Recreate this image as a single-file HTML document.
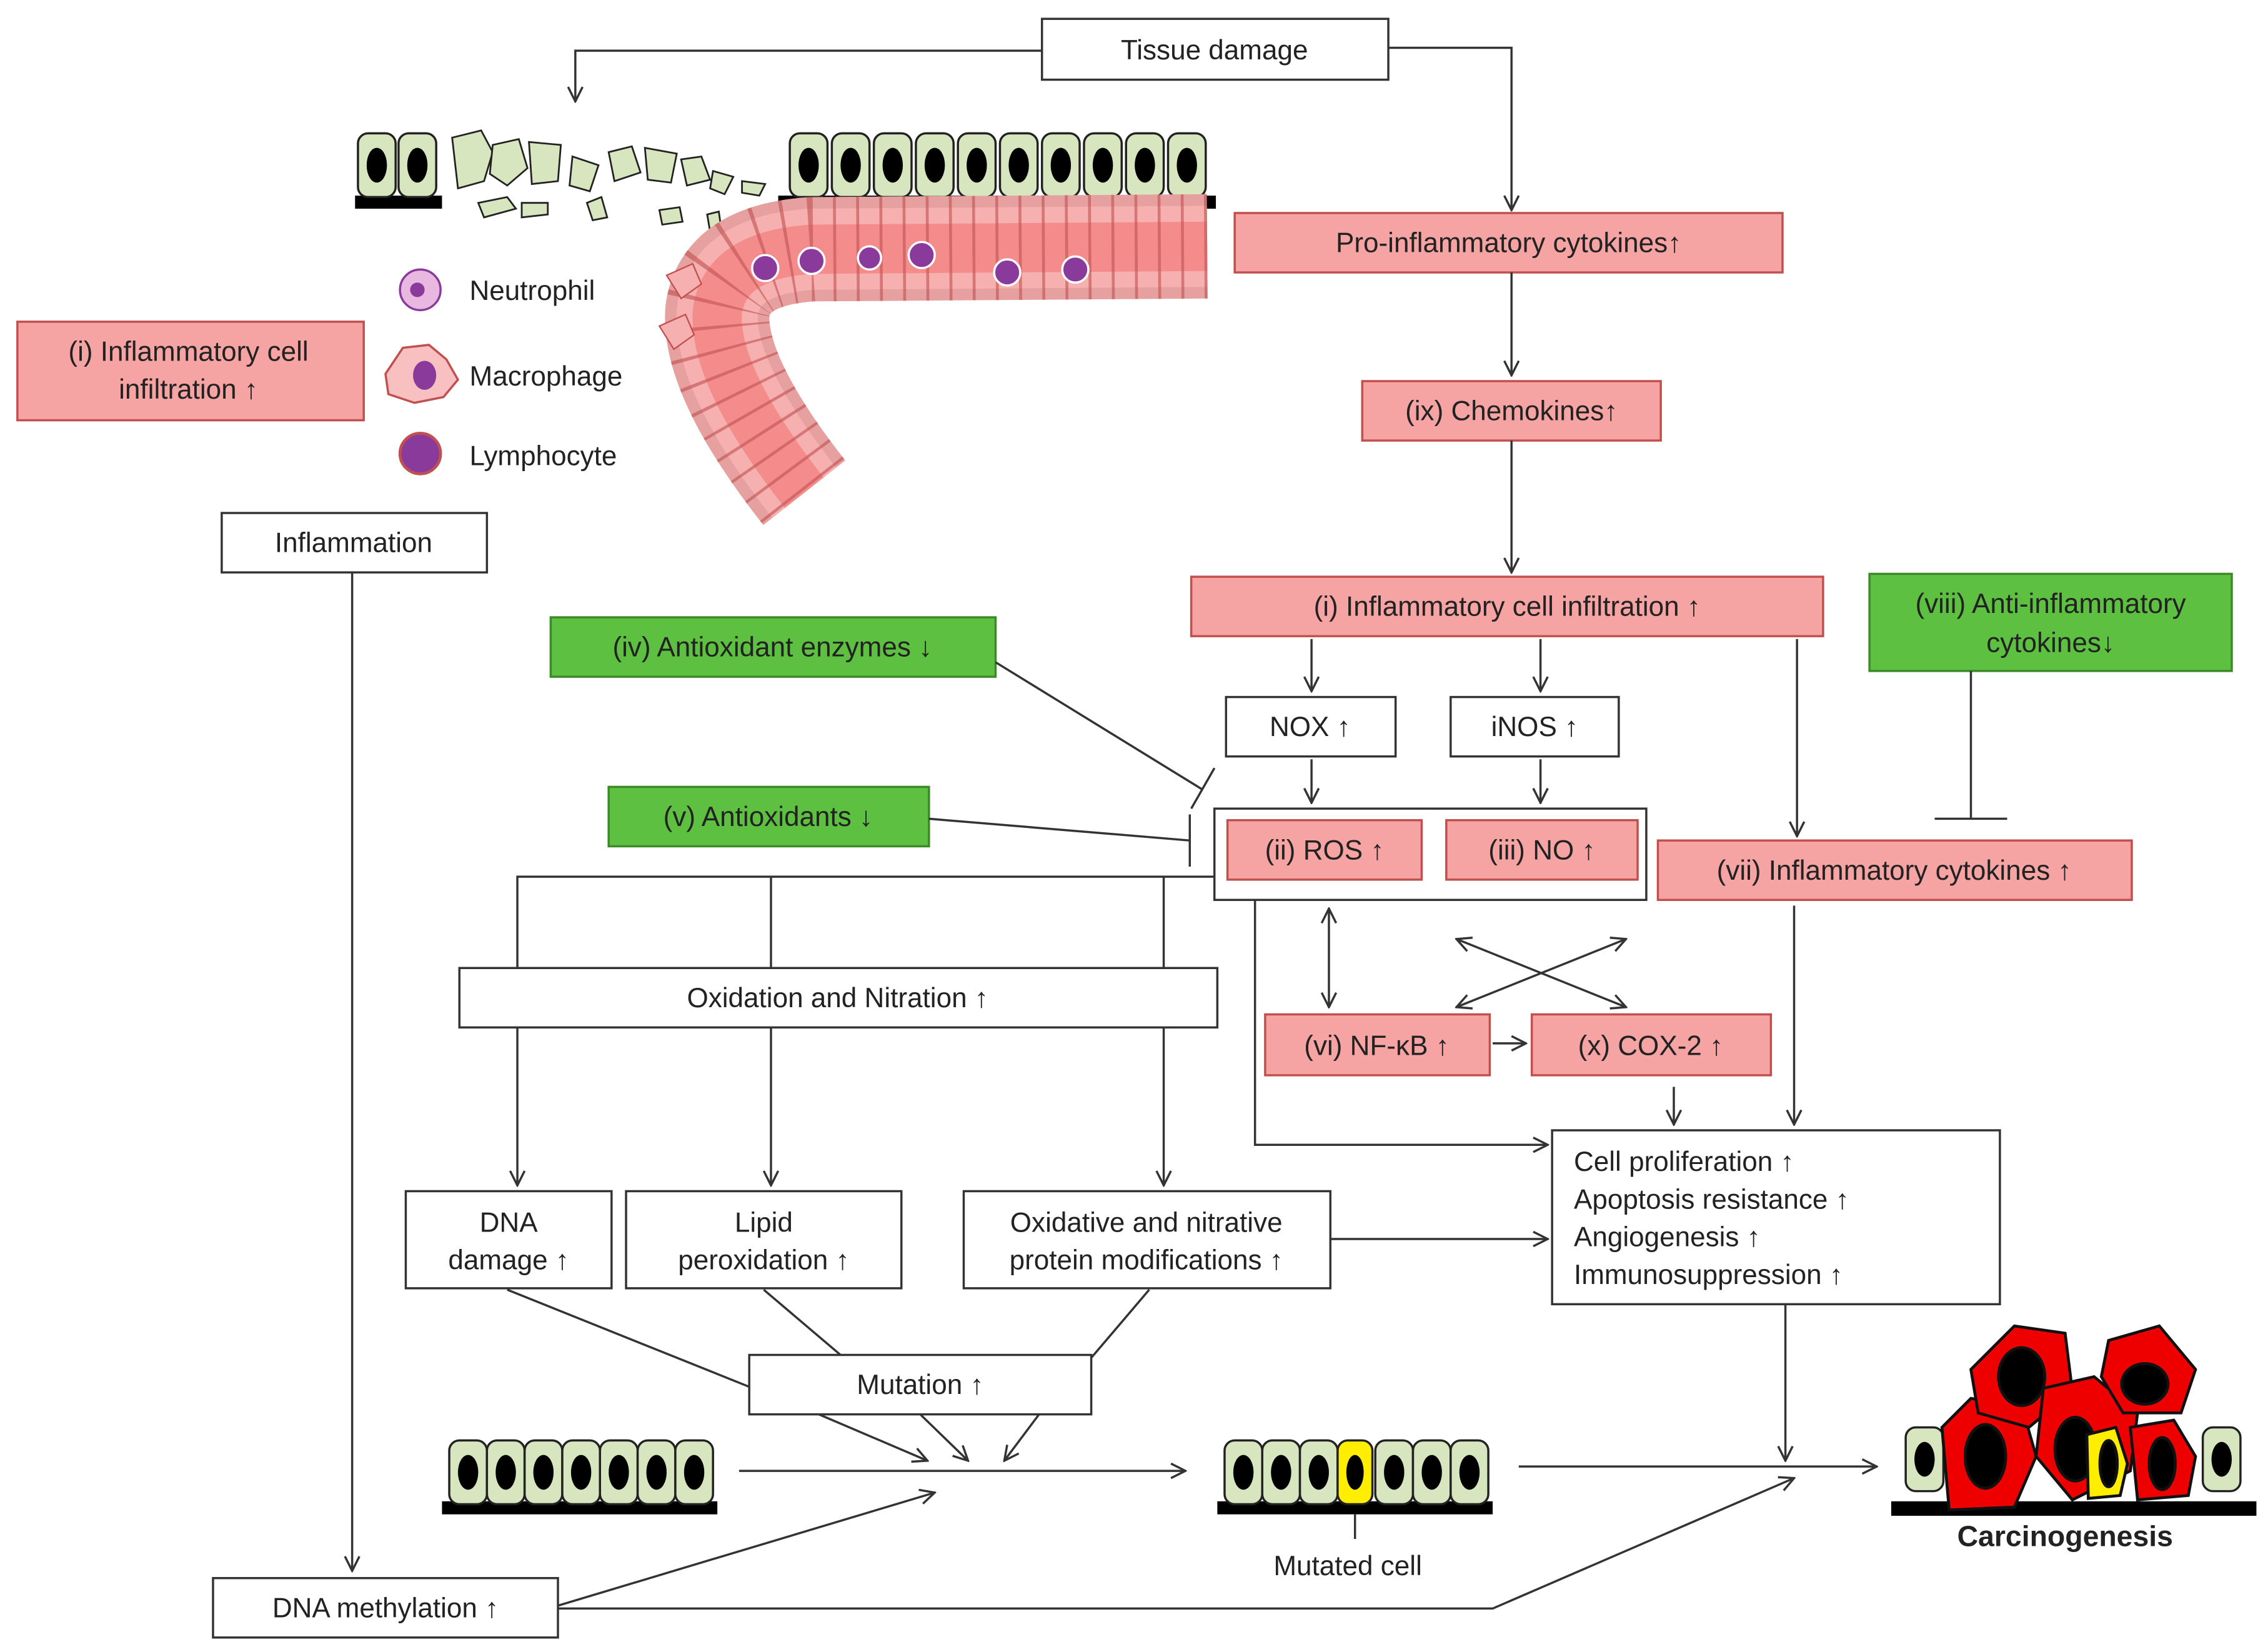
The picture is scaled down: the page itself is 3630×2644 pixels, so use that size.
<!DOCTYPE html>
<html><head><meta charset="utf-8"><style>
html,body{margin:0;padding:0;background:#fff}
svg{display:block}
text{font-family:"Liberation Sans",sans-serif;font-size:19px;fill:#222}
.w{fill:#fff;stroke:#333;stroke-width:1.5}
.p{fill:#f6a3a3;stroke:#c0504d;stroke-width:1.5}
.g{fill:#5ec040;stroke:#3b8a27;stroke-width:1.5}
.l{stroke:#333;stroke-width:1.5;fill:none}
.a{stroke:#333;stroke-width:1.5;fill:none;marker-end:url(#ar)}
.c{fill:#d8e6c0;stroke:#222;stroke-width:1.5}
</style></head><body>
<svg width="3630" height="2644" viewBox="0 0 1565 1140" preserveAspectRatio="none" xmlns="http://www.w3.org/2000/svg">
<defs>
<marker id="ar" viewBox="0 0 12 12" refX="11" refY="6" markerWidth="12" markerHeight="12" markerUnits="userSpaceOnUse" orient="auto-start-reverse"><path d="M1 1 L11 6 L1 11" fill="none" stroke="#333" stroke-width="1.5"/></marker>
<g id="cell"><rect x="0" y="0" width="26" height="44" rx="7" class="c"/><ellipse cx="13" cy="22" rx="7" ry="12" fill="#000"/></g>
</defs>

<rect x="245" y="135" width="60" height="9" fill="#000"/>
<use href="#cell" x="247" y="92"/><use href="#cell" x="275" y="92"/>
<g fill="#d8e6c0" stroke="#222" stroke-width="1.2">
<path d="M312 95 l20 -5 l8 15 l-6 20 l-18 5 z"/><path d="M340 100 l18 -4 l6 20 l-14 12 l-12 -8 z"/>
<path d="M365 98 l22 2 l-2 25 l-18 2 z"/><path d="M395 108 l18 6 l-6 18 l-14 -4 z"/>
<path d="M420 105 l16 -4 l6 18 l-18 6 z"/><path d="M445 102 l22 4 l-4 20 l-16 -2 z"/>
<path d="M470 110 l14 -2 l6 16 l-16 4 z"/><path d="M492 118 l14 4 l-6 12 l-10 -4 z"/>
<path d="M330 140 l20 -4 l6 8 l-22 6 z"/><path d="M360 140 l18 0 l0 8 l-18 2 z"/>
<path d="M405 140 l10 -4 l4 14 l-10 2 z"/><path d="M455 145 l14 -2 l2 10 l-14 2 z"/>
<path d="M488 148 l8 -2 l2 14 l-8 0 z"/><path d="M512 125 l16 2 l-4 8 l-12 -2 z"/>
</g>
<rect x="537" y="135" width="302" height="9" fill="#000"/>
<g><use href="#cell" x="545" y="92"/><use href="#cell" x="574" y="92"/><use href="#cell" x="603" y="92"/><use href="#cell" x="632" y="92"/><use href="#cell" x="661" y="92"/><use href="#cell" x="690" y="92"/><use href="#cell" x="719" y="92"/><use href="#cell" x="748" y="92"/><use href="#cell" x="777" y="92"/><use href="#cell" x="806" y="92"/></g>
<path d="M833 170 L560 172 Q500 176 495 215 Q492 260 555 340" stroke="#e7a0a0" stroke-width="72" fill="none"/>
<path d="M833 170 L560 172 Q500 176 495 215 Q492 260 555 340" stroke="#f7b0b0" stroke-width="56" fill="none"/>
<path d="M833 170 L560 172 Q500 176 495 215 Q492 260 555 340" stroke="#f48c8c" stroke-width="34" fill="none"/>
<path d="M833 170 L560 172 Q500 176 495 215 Q492 260 555 340" stroke="#c05050" stroke-width="72" fill="none" stroke-dasharray="2 14" opacity="0.6"/>
<g fill="#8a3a9a" stroke="#fff" stroke-width="1.5"><circle cx="528" cy="185" r="9"/><circle cx="560" cy="180" r="9"/><circle cx="600" cy="178" r="8"/><circle cx="636" cy="176" r="9"/><circle cx="695" cy="188" r="9"/><circle cx="742" cy="186" r="9"/></g>
<path d="M460 190 l18 -8 l6 14 l-14 10 z M455 225 l18 -8 l6 14 l-14 10 z" fill="#f7b0b0" stroke="#c05050"/>
<circle cx="290" cy="200" r="14" fill="#e8b8e0" stroke="#8a3a9a" stroke-width="1.5"/><circle cx="288" cy="200" r="5" fill="#8a3a9a"/>
<text x="324" y="207">Neutrophil</text>
<path d="M266 258 l12 -18 l18 -2 l12 10 l8 14 l-10 12 l-20 4 l-18 -6 z" fill="#f8c0c0" stroke="#c05050" stroke-width="1.5"/><ellipse cx="293" cy="259" rx="8" ry="10" fill="#8a3a9a"/>
<text x="324" y="266">Macrophage</text>
<circle cx="290" cy="313" r="14" fill="#8a3a9a" stroke="#c05050" stroke-width="2"/>
<text x="324" y="321">Lymphocyte</text>

<rect x="719" y="13" width="239" height="42" class="w"/><text x="838" y="41" text-anchor="middle">Tissue damage</text>
<path d="M719 35 H397 V70" class="a"/>
<path d="M958 33 H1043 V145" class="a"/>
<rect x="852" y="147" width="378" height="41" class="p"/><text x="1041" y="174" text-anchor="middle">Pro-inflammatory  cytokines↑</text>
<path d="M1043 188 V259" class="a"/>
<rect x="940" y="263" width="206" height="41" class="p"/><text x="1043" y="290" text-anchor="middle">(ix) Chemokines↑</text>
<path d="M1043 304 V395" class="a"/>
<rect x="822" y="398" width="436" height="41" class="p"/><text x="1040" y="425" text-anchor="middle">(i) Inflammatory  cell infiltration ↑</text>
<rect x="1290" y="396" width="250" height="67" class="g"/><text x="1415" y="423" text-anchor="middle">(viii)  Anti-inflammatory</text><text x="1415" y="450" text-anchor="middle">cytokines↓</text>
<path d="M1360 463 V565 M1335 565 H1385" class="l"/>
<rect x="12" y="222" width="239" height="68" class="p"/><text x="130" y="249" text-anchor="middle">(i) Inflammatory  cell</text><text x="130" y="275" text-anchor="middle">infiltration ↑</text>
<rect x="153" y="354" width="183" height="41" class="w"/><text x="244" y="381" text-anchor="middle">Inflammation</text>
<path d="M243 395 V1084" class="a"/>
<rect x="147" y="1089" width="238" height="41" class="w"/><text x="266" y="1116" text-anchor="middle">DNA  methylation ↑</text>

<rect x="380" y="426" width="307" height="41" class="g"/><text x="533" y="453" text-anchor="middle">(iv)  Antioxidant enzymes ↓</text>
<path d="M687 457 L830 545 M822 558 L838 530" class="l"/>
<rect x="420" y="543" width="221" height="41" class="g"/><text x="530" y="570" text-anchor="middle">(v)  Antioxidants ↓</text>
<path d="M641 565 L821 580 M821 562 V598" class="l"/>

<rect x="846" y="481" width="117" height="41" class="w"/><text x="904" y="508" text-anchor="middle">NOX ↑</text>
<rect x="1001" y="481" width="116" height="41" class="w"/><text x="1059" y="508" text-anchor="middle">iNOS ↑</text>
<path d="M905 441 V477" class="a"/><path d="M1063 441 V477" class="a"/><path d="M905 524 V554" class="a"/><path d="M1063 524 V554" class="a"/>
<rect x="838" y="558" width="298" height="63" class="w"/>
<rect x="847" y="566" width="134" height="41" class="p"/><text x="914" y="593" text-anchor="middle">(ii) ROS ↑</text>
<rect x="998" y="566" width="132" height="41" class="p"/><text x="1064" y="593" text-anchor="middle">(iii) NO ↑</text>
<path d="M1240 441 V577" class="a"/>
<rect x="1144" y="580" width="327" height="41" class="p"/><text x="1307" y="607" text-anchor="middle">(vii)  Inflammatory  cytokines ↑</text>

<path d="M838 605 H357 V668 M532 605 V668 M803 605 V668" class="l"/>
<path d="M357 709 V818" class="a"/><path d="M532 709 V818" class="a"/><path d="M803 709 V818" class="a"/>
<rect x="317" y="668" width="523" height="41" class="w"/><text x="578" y="695" text-anchor="middle">Oxidation and Nitration ↑</text>
<rect x="280" y="822" width="142" height="67" class="w"/><text x="351" y="850" text-anchor="middle">DNA</text><text x="351" y="876" text-anchor="middle">damage ↑</text>
<rect x="432" y="822" width="190" height="67" class="w"/><text x="527" y="850" text-anchor="middle">Lipid</text><text x="527" y="876" text-anchor="middle">peroxidation ↑</text>
<rect x="665" y="822" width="253" height="67" class="w"/><text x="791" y="850" text-anchor="middle">Oxidative  and nitrative</text><text x="791" y="876" text-anchor="middle">protein modifications ↑</text>
<path d="M918 855 H1068" class="a"/>
<path d="M866 621 V790 H1068" class="a"/>
<path d="M917 627 V695" class="a" marker-start="url(#ar)"/>
<path d="M1005 648 L1122 695" class="a" marker-start="url(#ar)"/>
<path d="M1122 648 L1005 695" class="a" marker-start="url(#ar)"/>
<rect x="873" y="700" width="155" height="42" class="p"/><text x="950" y="728" text-anchor="middle">(vi)  NF-κB ↑</text>
<rect x="1057" y="700" width="165" height="42" class="p"/><text x="1139" y="728" text-anchor="middle">(x) COX-2  ↑</text>
<path d="M1030 720 H1053" class="a"/><path d="M1155 750 V776" class="a"/><path d="M1238 625 V776" class="a"/>
<rect x="1071" y="780" width="309" height="120" class="w"/>
<text x="1086" y="808">Cell proliferation  ↑</text><text x="1086" y="834">Apoptosis resistance ↑</text><text x="1086" y="860">Angiogenesis ↑</text><text x="1086" y="886">Immunosuppression  ↑</text>

<path d="M350 890 L517 957 M527 890 L580 935 M793 890 L753 937" class="l"/>
<rect x="517" y="935" width="236" height="41" class="w"/><text x="635" y="962" text-anchor="middle">Mutation ↑</text>
<path d="M565 976 L640 1008" class="a"/><path d="M635 976 L668 1008" class="a"/><path d="M717 976 L693 1008" class="a"/>

<rect x="305" y="1036" width="190" height="9" fill="#000"/>
<use href="#cell" x="310" y="994"/><use href="#cell" x="336" y="994"/><use href="#cell" x="362" y="994"/><use href="#cell" x="388" y="994"/><use href="#cell" x="414" y="994"/><use href="#cell" x="440" y="994"/><use href="#cell" x="466" y="994"/>
<path d="M510 1015 H818" class="a"/>
<rect x="840" y="1036" width="190" height="9" fill="#000"/>
<use href="#cell" x="845" y="994"/><use href="#cell" x="871" y="994"/><use href="#cell" x="897" y="994"/>
<rect x="923" y="994" width="24" height="44" rx="7" fill="#ffee00" stroke="#222" stroke-width="1.5"/><ellipse cx="935" cy="1016" rx="6" ry="12" fill="#000"/>
<use href="#cell" x="949" y="994"/><use href="#cell" x="975" y="994"/><use href="#cell" x="1001" y="994"/>
<path d="M935 1045 V1062" class="l"/><text x="930" y="1087" text-anchor="middle">Mutated cell</text>
<path d="M1048 1012 H1295" class="a"/><path d="M1232 900 V1008" class="a"/>
<path d="M385 1108 L645 1030" class="a"/>
<path d="M385 1110 H1030 L1238 1020" class="a"/>

<rect x="1305" y="1036" width="252" height="10" fill="#000"/>
<use href="#cell" x="1315" y="985"/><use href="#cell" x="1520" y="985"/>
<g stroke="#111" stroke-width="2" fill="#ee0000">
<path d="M1340 985 l20 -20 l35 5 l10 35 l-15 35 l-45 2 z"/><ellipse cx="1370" cy="1005" rx="14" ry="22" fill="#000"/>
<path d="M1360 945 l30 -30 l35 5 l5 40 l-30 25 l-35 -10 z"/><ellipse cx="1395" cy="950" rx="16" ry="20" fill="#000"/>
<path d="M1410 958 l35 -8 l30 25 l-5 40 l-40 20 l-25 -30 z"/><ellipse cx="1432" cy="1000" rx="14" ry="22" fill="#000"/>
<path d="M1455 925 l35 -10 l25 30 l-10 30 l-40 0 l-15 -25 z"/><ellipse cx="1480" cy="955" rx="16" ry="14" fill="#000"/>
<path d="M1470 985 l30 -5 l15 25 l-5 27 l-35 3 z"/><ellipse cx="1492" cy="1010" rx="9" ry="18" fill="#000"/>
<path d="M1440 990 l20 -5 l8 25 l-5 22 l-22 2 z" fill="#ffee00"/><ellipse cx="1455" cy="1010" rx="6" ry="16" fill="#000"/>
</g>
<text x="1425" y="1067" text-anchor="middle" style="font-weight:bold;font-size:20px">Carcinogenesis</text>
</svg>
</body></html>
